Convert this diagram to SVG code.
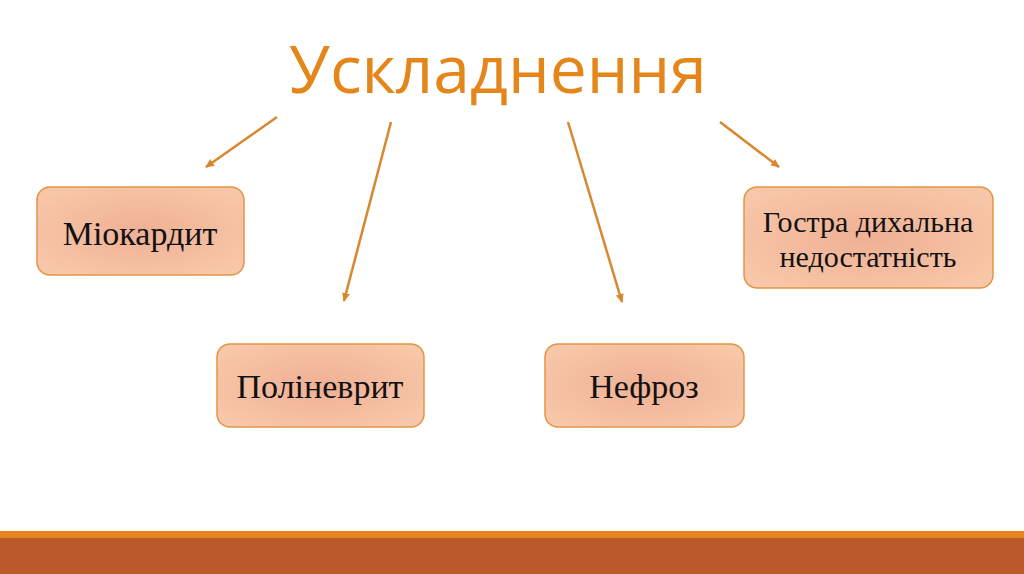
<svg xmlns="http://www.w3.org/2000/svg" width="1024" height="574" viewBox="0 0 1024 574">
<defs>
<radialGradient id="g" cx="50%" cy="50%" r="60%">
<stop offset="0" stop-color="#EFB094"/>
<stop offset="1" stop-color="#F8C6A8"/>
</radialGradient>
<marker id="ah" viewBox="0 0 10 10" refX="8" refY="5" markerWidth="4" markerHeight="4" orient="auto">
<path d="M0,1 L9,5 L0,9 z" fill="#D9872E"/>
</marker>
<style>
.box{fill:url(#g);stroke:#E29545;stroke-width:1.5}
.lbl{font-family:"Liberation Serif",serif;font-size:34px;fill:#111;text-anchor:middle}
.lbl2{font-family:"Liberation Serif",serif;font-size:30px;fill:#111;text-anchor:middle}
.conn{stroke:#D9872E;stroke-width:2.5;fill:none;marker-end:url(#ah)}
</style>
</defs>
<rect width="1024" height="574" fill="#fff"/>
<text id="title" x="498" y="93" font-family="Open Sans, Noto Sans, sans-serif" font-size="66" fill="#E4861A" text-anchor="middle">Ускладнення</text>
<g id="connectors">
<line class="conn" x1="277" y1="117" x2="206" y2="167"/>
<line class="conn" x1="391" y1="122" x2="344" y2="301"/>
<line class="conn" x1="568" y1="122" x2="622" y2="302"/>
<line class="conn" x1="720" y1="122" x2="779" y2="167"/>
</g>
<g id="n1"><rect class="box" x="37" y="187" width="207" height="88" rx="13"/><text class="lbl" x="140" y="245">Міокардит</text></g>
<g id="n2"><rect class="box" x="217" y="344" width="207" height="83" rx="13"/><text class="lbl" x="320" y="398">Поліневрит</text></g>
<g id="n3"><rect class="box" x="545" y="344" width="199" height="83" rx="13"/><text class="lbl" x="644" y="398">Нефроз</text></g>
<g id="n4"><rect class="box" x="744" y="187" width="249" height="101" rx="13"/><text class="lbl2" x="868" y="232">Гостра дихальна</text><text class="lbl2" x="868" y="267">недостатність</text></g>
<g id="band">
<rect x="0" y="531" width="1024" height="7" fill="#E8841F"/>
<rect x="0" y="538" width="1024" height="36" fill="#BB592D"/>
</g>
</svg>
